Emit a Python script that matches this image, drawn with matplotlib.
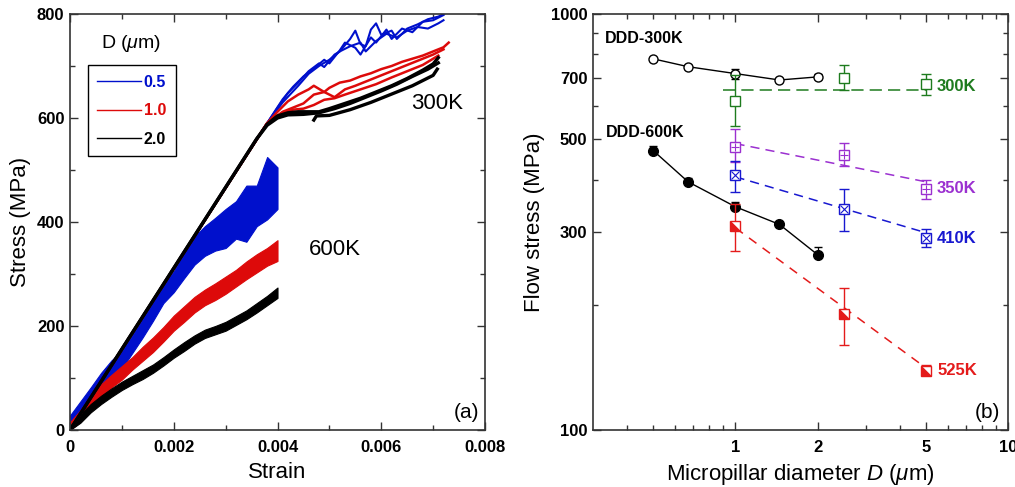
import matplotlib
matplotlib.use("Agg")
import matplotlib.pyplot as plt
from matplotlib.lines import Line2D
from matplotlib.ticker import MultipleLocator, FixedLocator, FuncFormatter, NullFormatter, FixedFormatter

plt.rcParams['font.family'] = ['Liberation Sans', 'DejaVu Sans']
plt.rcParams['mathtext.fontset'] = 'custom'
plt.rcParams['mathtext.rm'] = 'Liberation Sans'
plt.rcParams['mathtext.it'] = 'Liberation Sans:italic'

# ---------------- (a) stress-strain data ----------------
# 300K, three runs for each diameter
b300_e = [[0, .0038, .0040, .0042, .0044, .0046, .0048, .0049, .0051, .0052, .0054, .0055, .0056, .0057, .0058, .0059, .0060, .0062, .0063, .0065, .0067, .0069, .0071, .0073],
          [0, .0038, .0041, .0043, .0045, .0047, .0049, .0050, .0052, .0053, .0055, .0056, .0058, .0059, .0061, .0062, .0064, .0066, .0068, .0070, .0072],
          [0, .0038, .0041, .0044, .0046, .0048, .0050, .0052, .0054, .0056, .0057, .0059, .0061, .0063, .0065, .0067, .0069, .0071, .0072]]
b300_s = [[0, 590, 620, 648, 668, 690, 705, 698, 722, 728, 752, 768, 742, 738, 770, 782, 760, 768, 752, 772, 780, 790, 795, 805],
          [0, 590, 636, 660, 680, 695, 712, 705, 730, 745, 735, 722, 755, 745, 770, 752, 772, 765, 785, 788, 798],
          [0, 590, 630, 662, 685, 700, 712, 728, 738, 745, 728, 748, 762, 755, 768, 775, 772, 782, 788]]

r300_e = [[0, .0038, .0040, .0042, .0044, .0046, .0047, .0049, .0050, .0052, .0054, .0056, .0058, .0060, .0062, .0064, .0066, .0068, .0070, .0072, .0073],
          [0, .0038, .0041, .0043, .0045, .0047, .0049, .0051, .0053, .0055, .0057, .0059, .0062, .0065, .0068, .0070, .0072],
          [0, .0038, .0041, .0043, .0045, .0047, .0049, .0051, .0053, .0056, .0059, .0062, .0065, .0068, .0071]]
r300_s = [[0, 590, 612, 632, 645, 655, 662, 650, 658, 668, 672, 680, 686, 694, 700, 708, 714, 720, 728, 736, 745],
          [0, 590, 612, 620, 628, 645, 650, 640, 655, 662, 670, 678, 690, 702, 714, 722, 732],
          [0, 590, 610, 616, 618, 625, 635, 638, 645, 655, 665, 678, 690, 702, 720]]

k300_e = [[0, .0036, .0038, .0040, .0042, .0044, .0046, .0048, .0050, .0053, .0056, .0059, .0062, .0065, .0068, .0070, .0071],
          [0, .0036, .0038, .0040, .0042, .0045, .0048, .0051, .0054, .0057, .0060, .0063, .0066, .0069, .0071],
          [.0047, .00475, .0050, .0054, .0058, .0062, .0066, .0070, .00708]]
k300_s = [[0, 560, 588, 604, 610, 612, 612, 612, 618, 628, 638, 650, 662, 676, 692, 704, 716],
          [0, 560, 586, 600, 606, 607, 610, 618, 628, 640, 652, 665, 680, 694, 706],
          [596, 604, 605, 616, 630, 646, 662, 682, 694]]

# 600K, noisy bands (lower / upper envelopes)
e600 = [0, .0002, .0004, .0006, .0008, .0010, .0012, .0014, .0016, .0018, .0020,
        .0022, .0024, .0026, .0028, .0030, .0032, .0034, .0036, .0038, .0040]
b600_hi = [28, 55, 82, 110, 134, 152, 182, 214, 246, 282, 305, 342, 372, 392, 408, 425, 440, 470, 470, 525, 505]
b600_lo = [0, 22, 48, 72, 96, 118, 148, 178, 210, 244, 265, 292, 318, 335, 345, 350, 368, 362, 392, 405, 425]
r600_hi = [15, 38, 64, 88, 106, 123, 140, 160, 178, 198, 220, 238, 256, 270, 282, 295, 308, 324, 338, 350, 365]
r600_lo = [0, 16, 40, 62, 82, 97, 116, 133, 150, 170, 191, 208, 226, 240, 250, 262, 276, 290, 303, 316, 325]
k600_hi = [6, 30, 50, 66, 80, 93, 104, 115, 126, 140, 155, 169, 182, 193, 200, 208, 219, 230, 244, 258, 274]
k600_lo = [0, 14, 34, 50, 64, 77, 88, 98, 110, 124, 139, 152, 166, 177, 184, 191, 202, 213, 226, 240, 254]

# ---------------- (b) flow stress data ----------------
d_ddd = [0.5, 0.67, 1.0, 1.45, 2.0]
s_ddd300 = [780, 747, 719, 694, 706]
err_ddd300 = [5, 8, 20, 5, 10]
s_ddd600 = [469, 395, 344, 312, 264]
err_ddd600 = [12, 8, 10, 5, 12]

d_exp = [1.0, 2.5, 5.0]
s_300 = [619, 702, 678]
lo_300 = [538, 656, 638]
hi_300 = [715, 752, 717]
s_350 = [480, 459, 379]
lo_350 = [440, 430, 359]
hi_350 = [528, 489, 399]
s_410 = [410, 340, 290]
lo_410 = [374, 301, 275]
hi_410 = [444, 379, 305]
s_525 = [309, 190, 139]
lo_525 = [270, 160, 136]
hi_525 = [350, 220, 143]

fit_300_d, fit_300_s = [0.9, 5.0], [656, 656]
fit_350_d, fit_350_s = [1.0, 5.0], [488, 395]
fit_410_d, fit_410_s = [1.0, 5.0], [406, 298]
fit_525_d, fit_525_s = [1.0, 5.0], [306, 141]

BLUE = '#0010cc'
RED = '#dd0a0a'
GREEN = '#1e7b1e'
PURPLE = '#9b30d0'
BLUE2 = '#1818d0'
RED2 = '#e41b1b'
SPINE = '#333333'

fig = plt.figure(figsize=(10.15, 4.87), dpi=100)
ax1 = fig.add_axes([70/1015, 1-430/487, 415/1015, 416/487])
ax2 = fig.add_axes([593/1015, 1-430/487, 415/1015, 416/487])

# ---- panel (a) ----
for e, s in zip(b300_e, b300_s):
    ax1.plot(e, s, color=BLUE, lw=1.5)
for e, s in zip(r300_e, r300_s):
    ax1.plot(e, s, color=RED, lw=1.8)
for e, s in zip(k300_e, k300_s):
    ax1.plot(e, s, color='black', lw=2.4)

for lo, hi, c in [(b600_lo, b600_hi, BLUE), (r600_lo, r600_hi, RED), (k600_lo, k600_hi, 'black')]:
    ax1.fill_between(e600, lo, hi, color=c, lw=0.8, edgecolor=c)

ax1.set_xlim(0, 0.008)
ax1.set_ylim(0, 800)
ax1.xaxis.set_major_locator(MultipleLocator(0.002))
ax1.xaxis.set_minor_locator(MultipleLocator(0.001))
ax1.xaxis.set_major_formatter(FuncFormatter(lambda v, p: '0' if abs(v) < 1e-9 else f'{v:.3f}'))
ax1.yaxis.set_major_locator(MultipleLocator(200))
ax1.yaxis.set_minor_locator(MultipleLocator(100))
ax1.set_xlabel('Strain', fontsize=16, labelpad=5)
ax1.set_ylabel('Stress (MPa)', fontsize=16, labelpad=4)

handles = [Line2D([], [], color=BLUE, lw=1), Line2D([], [], color=RED, lw=1), Line2D([], [], color='black', lw=1)]
leg = ax1.legend(handles, ['0.5', '1.0', '2.0'], loc='upper left', bbox_to_anchor=(0.043, 0.877),
                 borderaxespad=0, fancybox=False, framealpha=1, edgecolor='black',
                 handlelength=2.7, handletextpad=0.2, labelspacing=0.85,
                 prop={'weight': 'bold', 'size': 11.5}, borderpad=0.6)
leg.get_frame().set_linewidth(1.0)
for t, c in zip(leg.get_texts(), [BLUE, RED, 'black']):
    t.set_color(c)
ax1.text(0.147, 0.928, 'D ($\\mu$m)', transform=ax1.transAxes, fontsize=14, ha='center', va='center')
ax1.text(0.884, 0.786, '300K', transform=ax1.transAxes, fontsize=16, ha='center', va='center')
ax1.text(0.639, 0.435, '600K', transform=ax1.transAxes, fontsize=16, ha='center', va='center')
ax1.text(0.985, 0.02, '(a)', transform=ax1.transAxes, fontsize=15, ha='right', va='bottom')

# ---- panel (b) ----
ax2.set_xscale('log')
ax2.set_yscale('log')

ax2.plot(fit_300_d, fit_300_s, color=GREEN, lw=1.1, dashes=(8, 4))
ax2.plot(fit_350_d, fit_350_s, color=PURPLE, lw=1.1, dashes=(6, 4))
ax2.plot(fit_410_d, fit_410_s, color=BLUE2, lw=1.1, dashes=(6, 4))
ax2.plot(fit_525_d, fit_525_s, color=RED2, lw=1.1, dashes=(6, 5))

ax2.errorbar(d_ddd, s_ddd300, yerr=err_ddd300, fmt='none', ecolor='black', elinewidth=0.9, capsize=3)
ax2.plot(d_ddd, s_ddd300, color='black', lw=1, marker='o', ms=6.5, mfc='white', mec='black', mew=1)
ax2.errorbar(d_ddd, s_ddd600, yerr=[[0]*5, err_ddd600], fmt='none', ecolor='black', elinewidth=0.9, capsize=3)
ax2.plot(d_ddd, s_ddd600, color='black', lw=1, marker='o', ms=7, mfc='black', mec='black')

half_tri = [(-1, -1), (1, -1), (-1, 1)]
for s, lo, hi, c, over in [(s_300, lo_300, hi_300, GREEN, None),
                           (s_350, lo_350, hi_350, PURPLE, '+'),
                           (s_410, lo_410, hi_410, BLUE2, 'x'),
                           (s_525, lo_525, hi_525, RED2, half_tri)]:
    yerr = [[v - l for v, l in zip(s, lo)], [h - v for v, h in zip(s, hi)]]
    ax2.errorbar(d_exp, s, yerr=yerr, fmt='none', ecolor=c, elinewidth=1, capsize=3.5)
    ax2.plot(d_exp, s, ls='none', marker='s', ms=6.5, mfc='white', mec=c, mew=1)
    if over is not None:
        ax2.plot(d_exp, s, ls='none', marker=over, ms=5.5 if over != half_tri else 6.5,
                 color=c, mew=0.8)

ax2.set_xlim(0.3, 10)
ax2.set_ylim(100, 1000)
ax2.xaxis.set_major_locator(FixedLocator([1, 2, 5, 10]))
ax2.xaxis.set_major_formatter(FixedFormatter(['1', '2', '5', '10']))
ax2.xaxis.set_minor_locator(FixedLocator([0.4, 0.5, 0.6, 0.7, 0.8, 0.9, 3, 4, 6, 7, 8, 9]))
ax2.xaxis.set_minor_formatter(NullFormatter())
ax2.yaxis.set_major_locator(FixedLocator([100, 300, 500, 700, 1000]))
ax2.yaxis.set_major_formatter(FixedFormatter(['100', '300', '500', '700', '1000']))
ax2.yaxis.set_minor_locator(FixedLocator([200, 400, 600, 800, 900]))
ax2.yaxis.set_minor_formatter(NullFormatter())
ax2.set_xlabel('Micropillar diameter $D$ ($\\mu$m)', fontsize=16, labelpad=5)
ax2.set_ylabel('Flow stress (MPa)', fontsize=16, labelpad=4)

ax2.text(0.029, 0.941, 'DDD-300K', transform=ax2.transAxes, fontsize=11.5, fontweight='bold', va='center')
ax2.text(0.031, 0.715, 'DDD-600K', transform=ax2.transAxes, fontsize=11.5, fontweight='bold', va='center')
for y, lab, c in [(0.826, '300K', GREEN), (0.581, '350K', PURPLE), (0.4615, '410K', BLUE2), (0.144, '525K', RED2)]:
    ax2.text(0.829, y, lab, transform=ax2.transAxes, fontsize=12, fontweight='bold', color=c, va='center')
ax2.text(0.981, 0.02, '(b)', transform=ax2.transAxes, fontsize=15, ha='right', va='bottom')

for ax in (ax1, ax2):
    for sp in ax.spines.values():
        sp.set_color(SPINE)
        sp.set_linewidth(1.2)
    ax.tick_params(which='both', direction='in', top=True, right=True, color=SPINE, width=1)
    ax.tick_params(which='major', length=6, pad=7, labelsize=12)
    ax.tick_params(which='minor', length=3.5)
    ax.tick_params(axis='y', which='major', pad=4)
    for lab in ax.get_xticklabels() + ax.get_yticklabels():
        lab.set_fontweight('bold')

fig.savefig('out.png', dpi=100)
